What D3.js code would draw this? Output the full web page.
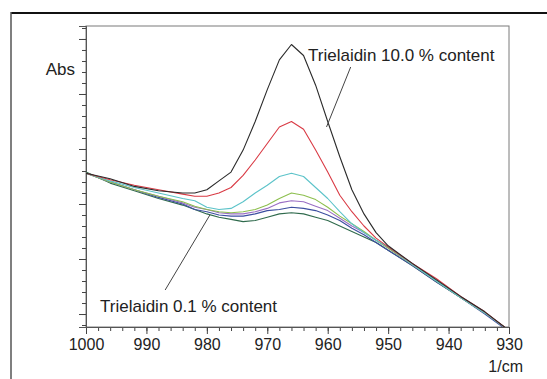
<!DOCTYPE html>
<html>
<head>
<meta charset="utf-8">
<script src="https://cdn.jsdelivr.net/npm/d3@7"></script>
<style>
  html, body { margin: 0; padding: 0; background: #fff; }
  svg { display: block; font-family: "Liberation Sans", Arial, Helvetica, sans-serif; }
</style>
</head>
<body>
<div id="chart"></div>
<script>
// wavenumbers (1/cm) where the spectra were read
const wavenumbers = [1000, 996, 992, 988, 984, 982, 980, 978, 976, 974, 972, 970, 968, 966, 964, 962, 960, 958, 956, 954, 952, 950, 946, 942, 938, 934, 930];

// absorbance, highest content first
const abs100 = [0.428, 0.423, 0.416, 0.412, 0.410, 0.410, 0.413, 0.421, 0.429, 0.449, 0.475, 0.504, 0.531, 0.545, 0.535, 0.508, 0.475, 0.443, 0.413, 0.391, 0.374, 0.362, 0.346, 0.331, 0.316, 0.302, 0.285];
const absRed = [0.428, 0.422, 0.417, 0.413, 0.409, 0.407, 0.407, 0.410, 0.415, 0.426, 0.440, 0.455, 0.470, 0.475, 0.468, 0.449, 0.429, 0.408, 0.393, 0.380, 0.369, 0.361, 0.346, 0.332, 0.316, 0.302, 0.285];
const absCyan = [0.428, 0.421, 0.415, 0.410, 0.405, 0.403, 0.397, 0.395, 0.396, 0.402, 0.410, 0.417, 0.425, 0.428, 0.425, 0.415, 0.405, 0.393, 0.382, 0.374, 0.367, 0.361, 0.345, 0.330, 0.315, 0.301, 0.285];
const absGreen = [0.428, 0.420, 0.413, 0.407, 0.402, 0.398, 0.395, 0.393, 0.392, 0.393, 0.395, 0.399, 0.405, 0.410, 0.408, 0.404, 0.397, 0.389, 0.382, 0.375, 0.367, 0.360, 0.345, 0.330, 0.315, 0.301, 0.285];
const absPurple = [0.428, 0.420, 0.413, 0.407, 0.401, 0.397, 0.395, 0.392, 0.391, 0.391, 0.393, 0.396, 0.401, 0.403, 0.402, 0.398, 0.394, 0.387, 0.380, 0.374, 0.367, 0.360, 0.345, 0.330, 0.315, 0.301, 0.285];
const absBlue = [0.428, 0.420, 0.413, 0.406, 0.400, 0.395, 0.393, 0.390, 0.389, 0.389, 0.391, 0.394, 0.395, 0.397, 0.396, 0.394, 0.390, 0.385, 0.378, 0.372, 0.365, 0.358, 0.344, 0.329, 0.315, 0.300, 0.284];
const abs01 = [0.429, 0.419, 0.412, 0.405, 0.399, 0.395, 0.391, 0.388, 0.386, 0.384, 0.385, 0.388, 0.391, 0.392, 0.391, 0.388, 0.385, 0.380, 0.375, 0.370, 0.365, 0.358, 0.344, 0.329, 0.315, 0.301, 0.285];

const seriesColors = ['#2a2a2a', '#d93a44', '#5cc3c9', '#8dbf4e', '#9a6fc4', '#3c4ea0', '#2f6a4c'];
const seriesValues = [abs100, absRed, absCyan, absGreen, absPurple, absBlue, abs01];

const xMajorTicks = [1000, 990, 980, 970, 960, 950, 940, 930];
const xMinorTicks = d3.range(1000, 929, -2);
const yMajorTicks = [0.30, 0.35, 0.40, 0.45, 0.50, 0.55];
const yMinorTicks = d3.range(29, 57).map(d => d / 100);

const yLabel = 'Abs';
const xLabel = '1/cm';
const topNote = 'Trielaidin 10.0 % content';
const bottomNote = 'Trielaidin 0.1 % content';

const width = 547, height = 379;
const margin = { top: 26, right: 38, bottom: 52, left: 86 };
const innerWidth = width - margin.left - margin.right;
const innerHeight = height - margin.top - margin.bottom;

const svg = d3.select('#chart').append('svg').attr('width', width).attr('height', height);

// outer frame of the figure (runs off the right and bottom edges)
svg.append('line').attr('x1', 11).attr('x2', width).attr('y1', 13).attr('y2', 13)
  .attr('stroke', '#111').attr('stroke-width', 2);
svg.append('line').attr('x1', 11).attr('x2', 11).attr('y1', 12).attr('y2', height)
  .attr('stroke', '#555').attr('stroke-width', 1.5);

const x = d3.scaleLinear().domain([1000, 930]).range([0, innerWidth]);
const y = d3.scaleLinear().domain([0.2882, 0.5618]).range([innerHeight, 0]);

const g = svg.append('g').attr('transform', `translate(${margin.left},${margin.top})`);

g.append('clipPath').attr('id', 'plot-clip').append('rect')
  .attr('width', innerWidth).attr('height', innerHeight);

g.append('rect').attr('width', innerWidth).attr('height', innerHeight)
  .attr('fill', 'none').attr('stroke', '#7a7a7a').attr('stroke-width', 1);

// axes
const xMinor = g.append('g').attr('transform', `translate(0,${innerHeight})`)
  .call(d3.axisBottom(x).tickValues(xMinorTicks).tickSize(4).tickFormat(''));
const xMajor = g.append('g').attr('transform', `translate(0,${innerHeight})`)
  .call(d3.axisBottom(x).tickValues(xMajorTicks).tickSize(7).tickPadding(5).tickFormat(d3.format('d')));
const yMinor = g.append('g').call(d3.axisLeft(y).tickValues(yMinorTicks).tickSize(4).tickFormat(''));
const yMajor = g.append('g').call(d3.axisLeft(y).tickValues(yMajorTicks).tickSize(7).tickFormat(''));

[xMinor, xMajor, yMinor, yMajor].forEach(a => {
  a.select('.domain').attr('stroke', '#555');
  a.selectAll('.tick line').attr('stroke', '#444');
});
// unlabeled axes keep no empty text nodes
[xMinor, yMinor, yMajor].forEach(a => a.selectAll('.tick text').remove());
xMajor.selectAll('.tick text').attr('font-size', 16).attr('fill', '#222')
  .attr('font-family', '"Liberation Sans", Arial, sans-serif');

// spectra
const line = d3.line().x((d, i) => x(wavenumbers[i])).y(d => y(d));
const lines = g.append('g').attr('clip-path', 'url(#plot-clip)');
seriesValues.slice().reverse().forEach((vals, i) => {
  const idx = seriesValues.length - 1 - i;
  lines.append('path').datum(vals).attr('d', line)
    .attr('fill', 'none').attr('stroke', seriesColors[idx]).attr('stroke-width', 1.1)
    .attr('stroke-linejoin', 'round');
});

// labels
svg.append('text').attr('x', 75).attr('y', 75).attr('text-anchor', 'end')
  .attr('font-size', 17).attr('fill', '#222').text(yLabel);
svg.append('text').attr('x', 523).attr('y', 372).attr('text-anchor', 'end')
  .attr('font-size', 16).attr('fill', '#222').text(xLabel);

// annotations with leader lines
g.append('line')
  .attr('x1', x(956.2)).attr('y1', 67 - margin.top)
  .attr('x2', x(960.2)).attr('y2', y(0.47))
  .attr('stroke', '#444').attr('stroke-width', 1);
svg.append('text').attr('x', 308).attr('y', 61).attr('font-size', 17).attr('fill', '#222').text(topNote);

g.append('line')
  .attr('x1', x(986.9)).attr('y1', 290 - margin.top)
  .attr('x2', x(979.5)).attr('y2', y(0.390))
  .attr('stroke', '#444').attr('stroke-width', 1);
svg.append('text').attr('x', 100).attr('y', 312).attr('font-size', 17).attr('fill', '#222').text(bottomNote);
</script>
</body>
</html>
